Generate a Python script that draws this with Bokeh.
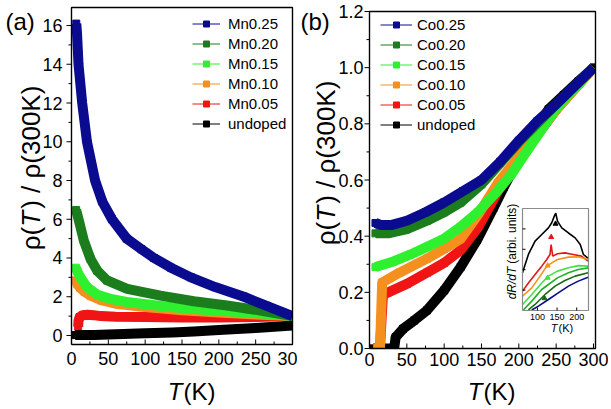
import math
from bokeh.plotting import figure
from bokeh.layouts import row
from bokeh.models import Range1d, Legend, LegendItem
from bokeh.core.properties import value
from bokeh.embed import file_html
from bokeh.resources import INLINE

FONT = "Liberation Sans"

# ---------------- data: panel (a), Mn doped ----------------
T_mn25 = [6.5, 7.5, 9.5, 14.5, 21, 32, 42, 55, 75, 95, 112, 135, 162, 195, 234, 265, 300]
R_mn25 = [16.1, 15.6, 14.0, 12.0, 10.0, 8.0, 6.9, 6.0, 5.0, 4.45, 4.0, 3.5, 3.0, 2.5, 2.0, 1.53, 1.0]

T_mn20 = [6.3, 10, 16.7, 25.8, 34.8, 48.4, 75.6, 120.8, 166, 211, 256.5, 300]
R_mn20 = [6.48, 5.93, 4.9, 3.95, 3.35, 2.84, 2.41, 2.06, 1.77, 1.55, 1.29, 1.0]

T_mn15 = [6, 8, 12, 21, 35, 53, 75, 98, 130, 166, 200, 234, 270, 300]
R_mn15 = [3.5, 3.3, 3.0, 2.5, 2.1, 1.89, 1.73, 1.63, 1.48, 1.37, 1.28, 1.2, 1.1, 1.0]

T_mn10 = [6, 8, 12, 18, 26, 40, 60, 100, 150, 200, 250, 300]
R_mn10 = [2.85, 2.65, 2.45, 2.25, 2.05, 1.82, 1.64, 1.47, 1.3, 1.18, 1.08, 1.0]

T_mn05 = [9, 9.5, 11, 15, 22, 30, 40, 60, 100, 150, 200, 250, 300]
R_mn05 = [0.45, 0.75, 0.95, 1.04, 1.07, 1.05, 1.0, 0.97, 0.95, 0.93, 0.93, 0.95, 1.0]

T_mn00 = [5, 30, 60, 100, 137, 166, 200, 250, 300]
R_mn00 = [0.02, 0.03, 0.06, 0.11, 0.16, 0.21, 0.28, 0.39, 0.52]

# ---------------- data: panel (b), Co doped ----------------
T_co25 = [8, 15, 30, 50, 75, 100, 125, 150, 175, 200, 225, 250, 275, 300]
R_co25 = [0.447, 0.44, 0.44, 0.455, 0.485, 0.52, 0.56, 0.6, 0.665, 0.74, 0.81, 0.87, 0.935, 1.0]

T_co20 = [8, 25, 50, 77, 100, 122, 150, 175, 200, 250, 300]
R_co20 = [0.41, 0.41, 0.425, 0.455, 0.485, 0.52, 0.585, 0.66, 0.735, 0.87, 1.0]

T_co15 = [8, 32, 55, 77, 99, 122, 145, 166, 190, 210, 250, 300]
R_co15 = [0.29, 0.31, 0.335, 0.362, 0.39, 0.433, 0.485, 0.545, 0.62, 0.7, 0.855, 1.0]

T_co10 = [5, 14, 17, 40, 77, 100, 122, 145, 172, 205, 250, 300]
R_co10 = [0.0, 0.0, 0.235, 0.27, 0.32, 0.355, 0.39, 0.475, 0.59, 0.7, 0.85, 1.0]

T_co05 = [5, 14, 18, 25, 50, 77, 100, 122, 145, 172, 205, 250, 300]
R_co05 = [0.0, 0.0, 0.19, 0.2, 0.23, 0.27, 0.305, 0.35, 0.43, 0.56, 0.69, 0.85, 1.0]

T_co00 = [5, 33, 35, 45, 60, 77, 100, 122, 144, 166, 180, 200, 220, 240, 260, 280, 300]
R_co00 = [0.0, 0.0, 0.04, 0.07, 0.1, 0.136, 0.207, 0.29, 0.386, 0.5, 0.575, 0.675, 0.775, 0.852, 0.902, 0.952, 1.0]

# ---------------- data: inset dR/dT (arbitrary units) ----------------
Ti_black = [62, 64.4, 77, 94, 111, 128, 136.5, 143, 146.7, 151, 162, 179, 196, 209, 217, 229]
Di_black = [0.37, 0.40, 0.55, 0.68, 0.745, 0.81, 0.86, 0.925, 0.954, 0.876, 0.81, 0.76, 0.712, 0.647, 0.549, 0.51]
Ti_red = [62, 77, 94, 111, 123.7, 132, 134.8, 139, 151, 170, 191, 212, 229]
Di_red = [0.19, 0.27, 0.353, 0.435, 0.5, 0.549, 0.647, 0.533, 0.556, 0.565, 0.549, 0.533, 0.484]
Ti_orange = [62, 85.6, 106.8, 123.7, 136.5, 151, 179, 204, 229]
Di_orange = [0.14, 0.222, 0.337, 0.435, 0.467, 0.5, 0.523, 0.526, 0.5]
Ti_lgreen = [62, 85.6, 111, 128, 151, 179, 204, 229]
Di_lgreen = [0.059, 0.157, 0.27, 0.337, 0.386, 0.42, 0.44, 0.435]
Ti_mgreen = [64, 85.6, 111, 128, 151, 179, 204, 229]
Di_mgreen = [0.005, 0.092, 0.206, 0.255, 0.32, 0.37, 0.402, 0.418]
Ti_dgreen = [77, 94, 119.5, 145, 170, 196, 229]
Di_dgreen = [0.005, 0.059, 0.157, 0.239, 0.294, 0.337, 0.37]
Ti_navy = [85.6, 102.5, 128, 153, 179, 204, 229]
Di_navy = [0.005, 0.043, 0.108, 0.173, 0.239, 0.288, 0.327]
Ti_arrows = [146, 135, 126, 126, 118]
Di_arrows = [0.85, 0.72, 0.44, 0.32, 0.12]
INSET_T_RANGE = (62, 230)
INSET_D_RANGE = (0, 1)
INSET_XTICKS = [100, 150, 200]
INSET_YTICKS = [0.2, 0.4, 0.6, 0.8]

# ---------------- axes: ranges, ticks, tick labels ----------------
XR_A, YR_A = (0, 300), (-0.465, 16.93)
XR_B, YR_B = (0, 302.7), (0, 1.2)
T_MAJOR = [0, 50, 100, 150, 200, 250, 300]
T_MINOR = [25, 75, 125, 175, 225, 275]
YA_MAJOR = [0, 2, 4, 6, 8, 10, 12, 14, 16]
YA_MINOR = [1, 3, 5, 7, 9, 11, 13, 15]
YB_MAJOR = [0.0, 0.2, 0.4, 0.6, 0.8, 1.0, 1.2]
YB_MINOR = [0.1, 0.3, 0.5, 0.7, 0.9, 1.1]
T_LABELS = ["0", "50", "100", "150", "200", "250", "300"]
YA_LABELS = ["0", "2", "4", "6", "8", "10", "12", "14", "16"]
YB_LABELS = ["0.0", "0.2", "0.4", "0.6", "0.8", "1.0", "1.2"]

NAMES_A = ["Mn0.25", "Mn0.20", "Mn0.15", "Mn0.10", "Mn0.05", "undoped"]
NAMES_B = ["Co0.25", "Co0.20", "Co0.15", "Co0.10", "Co0.05", "undoped"]
COLORS = ["#0b0b8f", "#1b7d1b", "#2ef02e", "#f5901e", "#f01414", "#000000"]
SER_A = [(T_mn25, R_mn25), (T_mn20, R_mn20), (T_mn15, R_mn15),
         (T_mn10, R_mn10), (T_mn05, R_mn05), (T_mn00, R_mn00)]
SER_B = [(T_co25, R_co25), (T_co20, R_co20), (T_co15, R_co15),
         (T_co10, R_co10), (T_co05, R_co05), (T_co00, R_co00)]
INSET = [(Ti_black, Di_black, "#000000"), (Ti_red, Di_red, "#e01818"),
         (Ti_orange, Di_orange, "#f5901e"), (Ti_lgreen, Di_lgreen, "#44e044"),
         (Ti_mgreen, Di_mgreen, "#22b022"), (Ti_dgreen, Di_dgreen, "#166a16"),
         (Ti_navy, Di_navy, "#0b0b8f")]
ARROW_COLORS = ["#000000", "#e01818", "#f5901e", "#44e044", "#166a16"]

H = 407
# plot boxes in canvas pixels: (left, right, top, bottom)
BOX_A = (71, 292, 7, 344)
BOX_B = (72, 298, 11, 348)
INSET_BOX = (225, 291, 208, 310)

# Arial / Liberation Sans advance widths (em)
ADV = {'ρ': 0.577, '(': 0.333, ')': 0.333, ' ': 0.278, '/': 0.278, '0': 0.556, '3': 0.556,
       'K': 0.667, 'T': 0.611, 'd': 0.556, 'R': 0.722, 'a': 0.556, 'r': 0.333, 'b': 0.556,
       'i': 0.222, '.': 0.278, 'u': 0.556, 'n': 0.556, 't': 0.278, 's': 0.5}


def tw(s, size):
    return sum(ADV.get(c, 0.556) for c in s) * size


def span(d, box_lo, box_hi, size):
    """range over the whole canvas so that d[0]..d[1] falls on pixels box_lo..box_hi"""
    k = (d[1] - d[0]) / (box_hi - box_lo)
    return d[0] - box_lo * k, d[1] + (size - box_hi) * k, k


def txt(p, x, y, s, size, italic=False, align="center", baseline="middle",
        xo=0, yo=0, angle=0.0, **kw):
    xs = x if isinstance(x, list) else [x]
    ys = y if isinstance(y, list) else [y]
    ss = s if isinstance(s, list) else [s]
    p.text(x=xs, y=ys, text=ss, text_font=value(FONT), text_font_size=value(f"{size}px"),
           text_font_style=value("italic" if italic else "normal"), text_align=align,
           text_baseline=baseline, x_offset=xo, y_offset=yo, angle=angle,
           text_color="black", **kw)


def rot_title(p, x, y, xo, yo_center, parts, size, **kw):
    """vertical title made of parts, centred on yo_center (pixels from anchor)"""
    total = sum(tw(s, size) + extra for s, _, extra in parts)
    bottom = yo_center - 0.75 * size + total / 2.0
    cum = 0.0
    for s, italic, extra in parts:
        w = tw(s, size)
        txt(p, x, y, s, size, italic=italic, align="center", baseline="middle",
            xo=xo, yo=bottom - cum - w / 2.0, angle=math.pi / 2, **kw)
        cum += w + extra


def hline_tick(p, xs, ys, length, **kw):
    p.scatter(xs, ys, marker="dash", size=length, angle=0.0, line_color="black",
              line_width=1, **kw)


def vline_tick(p, xs, ys, length, **kw):
    p.scatter(xs, ys, marker="dash", size=length, angle=math.pi / 2, line_color="black",
              line_width=1, **kw)


def panel(width, box, xr, yr, series, names, legend_loc, glyph_w, standoff,
          ymaj, ymin, ylabels, xlab_off, ylab_off):
    bl, br, bt, bb = box
    xs, xe, kx = span(xr, bl, br, width)
    ys, ye, ky = span(yr, H - bb, H - bt, H)
    p = figure(width=width, height=H, x_range=Range1d(xs, xe), y_range=Range1d(ys, ye),
               output_backend="svg", toolbar_location=None, title=None,
               x_axis_location=None, y_axis_location=None, min_border=0)
    p.xgrid.visible = False
    p.ygrid.visible = False
    p.outline_line_color = None
    p.background_fill_color = "white"
    p.border_fill_color = "white"

    thin, squares = [], []
    for (t, r), c in zip(series, COLORS):
        thin.append(p.line(t, r, color=c, line_width=1))
        squares.append(p.scatter(t, r, marker="square", size=7, color=c))
    for (t, r), c in reversed(list(zip(series, COLORS))):
        p.line(t, r, line_width=10, color=c, line_join="round", line_cap="butt")

    # white masks outside the plot box (bands are clipped to the box)
    p.quad(left=[xs, xs, xr[1]], right=[xe, xr[0], xe], bottom=[ys, yr[0], yr[0]],
           top=[yr[0], yr[1], yr[1]], fill_color="white", line_color=None)
    # box
    p.line([xr[0], xr[1], xr[1], xr[0], xr[0]], [yr[0], yr[0], yr[1], yr[1], yr[0]],
           color="black", line_width=1.4)
    # x ticks (inward)
    vline_tick(p, T_MAJOR, [yr[0] + 2.5 * ky] * len(T_MAJOR), 5)
    vline_tick(p, T_MINOR, [yr[0] + 1.5 * ky] * len(T_MINOR), 3)
    # y ticks (outward)
    hline_tick(p, [xr[0] - 2.5 * kx] * len(ymaj), ymaj, 5)
    hline_tick(p, [xr[0] - 1.5 * kx] * len(ymin), ymin, 3)
    # tick labels
    txt(p, T_MAJOR, [yr[0]] * len(T_MAJOR), T_LABELS, 18, baseline="top", yo=xlab_off)
    txt(p, [xr[0]] * len(ymaj), ymaj, ylabels, 18, align="right", xo=-ylab_off)

    items = [LegendItem(label=n, renderers=[rl, rs]) for n, rl, rs in zip(names, thin, squares)]
    p.add_layout(Legend(items=items, location=legend_loc, glyph_width=glyph_w,
                        glyph_height=15, label_height=15, spacing=3,
                        label_standoff=standoff, padding=0, margin=0,
                        border_line_color=None, background_fill_alpha=0,
                        label_text_font=FONT, label_text_font_size="15px",
                        label_text_color="black"))
    return p, kx, ky


YTITLE = [("ρ(", False, 0), ("T", True, 2), (") / ρ(300K)", False, 0)]

# ---------------- panel (a) ----------------
pa, kxa, kya = panel(297, BOX_A, XR_A, YR_A, SER_A, NAMES_A, (192, 275), 28, 8,
                     YA_MAJOR, YA_MINOR, YA_LABELS, 7, 9)
txt(pa, XR_A[0], YR_A[1], "(a)", 24, align="left", baseline="top", xo=-66, yo=0)
txt(pa, XR_A[0], YR_A[0], "T", 24, italic=True, align="right", baseline="top",
    xo=111, yo=33)
txt(pa, XR_A[0], YR_A[0], "(K)", 24, align="left", baseline="top", xo=112, yo=33)
rot_title(pa, XR_A[0], YR_A[0], -41, 187 - 344, YTITLE, 26)

# ---------------- panel (b) ----------------
pb, kxb, kyb = panel(311, BOX_B, XR_B, YR_B, SER_B, NAMES_B, (83, 274), 32, 5,
                     YB_MAJOR, YB_MINOR, YB_LABELS, 4, 6)
txt(pb, XR_B[0], YR_B[1], "(b)", 24, align="left", baseline="top", xo=-69, yo=-4)
txt(pb, XR_B[0], YR_B[0], "T", 24, italic=True, align="right", baseline="top",
    xo=113, yo=29)
txt(pb, XR_B[0], YR_B[0], "(K)", 24, align="left", baseline="top", xo=114, yo=29)
rot_title(pb, XR_B[0], YR_B[0], -44, 182 - 348, YTITLE, 26)

# ---------------- inset inside panel (b) ----------------
il, ir, it_, ib = INSET_BOX
ixs, ixe, ikx = span(INSET_T_RANGE, il, ir, 311)
iys, iye, iky = span(INSET_D_RANGE, H - ib, H - it_, H)
pb.extra_x_ranges = {"ix": Range1d(ixs, ixe)}
pb.extra_y_ranges = {"iy": Range1d(iys, iye)}
kw = dict(x_range_name="ix", y_range_name="iy")
x0i, x1i = INSET_T_RANGE
y0i, y1i = INSET_D_RANGE
pb.quad(left=[x0i], right=[x1i], bottom=[y0i], top=[y1i], fill_color="white",
        line_color=None, **kw)
for t, d, c in INSET:
    pb.line(t, d, color=c, line_width=1.6, **kw)
pb.line([x0i, x1i, x1i, x0i, x0i], [y0i, y0i, y1i, y1i, y0i], color="#8a8a8a",
        line_width=1.2, **kw)
pb.scatter(Ti_arrows, Di_arrows, marker="triangle", size=5, color=ARROW_COLORS, **kw)
vline_tick(pb, INSET_XTICKS, [y0i + 1.5 * iky] * 3, 3, **kw)
hline_tick(pb, [x0i + 1.5 * ikx] * 4, INSET_YTICKS, 3, **kw)
txt(pb, INSET_XTICKS, [y0i] * 3, [str(v) for v in INSET_XTICKS], 9,
    baseline="top", yo=3, **kw)
txt(pb, x0i, y0i, "T", 11, italic=True, align="right", baseline="top", xo=35, yo=11, **kw)
txt(pb, x0i, y0i, "(K)", 11, align="left", baseline="top", xo=36, yo=11, **kw)
rot_title(pb, x0i, y0i, -11, -50, [("dR/dT", True, 3), ("(arbi. units)", False, 0)], 12, **kw)

layout = row(pa, pb, spacing=0)
open("out.html", "w").write(file_html(layout, INLINE))
